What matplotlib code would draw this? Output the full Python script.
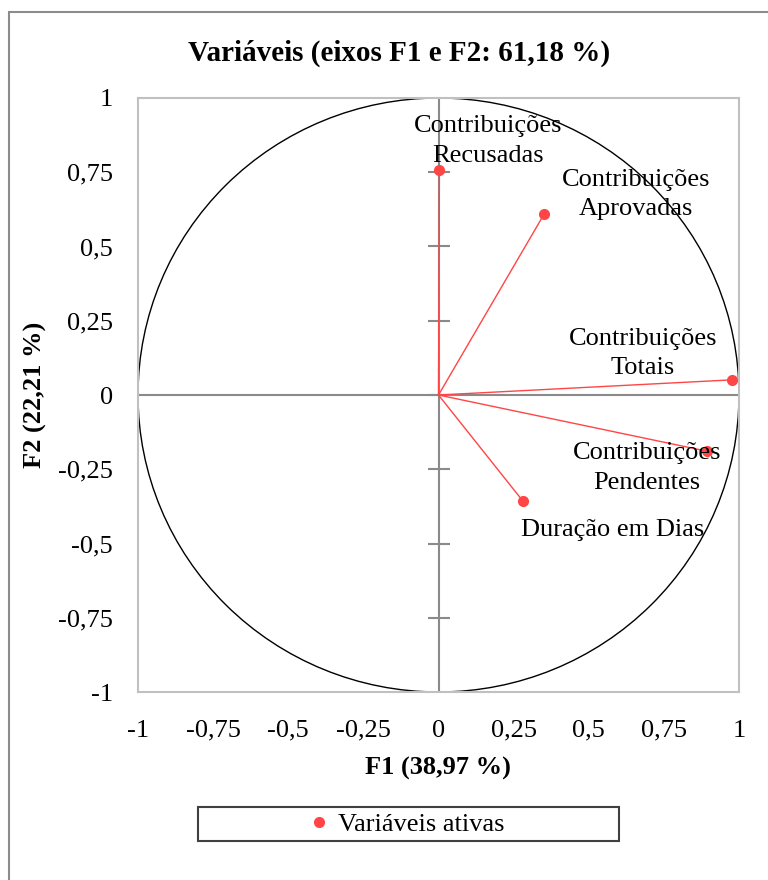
import numpy as np
import matplotlib
matplotlib.use("Agg")
import matplotlib.pyplot as plt
from matplotlib.patches import Circle, Rectangle
from matplotlib.lines import Line2D

plt.rcParams['font.family'] = ['Liberation Serif', 'DejaVu Serif']

# Correlações das variáveis com os fatores F1 e F2
variaveis = ["Contribuições\nRecusadas", "Contribuições\nAprovadas",
             "Contribuições\nTotais", "Contribuições\nPendentes",
             "Duração em Dias"]
f1 = [0.003, 0.352, 0.976, 0.892, 0.280]
f2 = [0.758, 0.610, 0.051, -0.189, -0.356]

ticks = [-1, -0.75, -0.5, -0.25, 0, 0.25, 0.5, 0.75, 1]
tick_labels = ["-1", "-0,75", "-0,5", "-0,25", "0", "0,25", "0,5", "0,75", "1"]

titulo = "Variáveis (eixos F1 e F2: 61,18 %)"
rotulo_x = "F1 (38,97 %)"
rotulo_y = "F2 (22,21 %)"
legenda = "Variáveis ativas"

# deslocamento dos rótulos em relação aos pontos (pontos tipográficos)
offsets = [(35, 21), (66, 14), (-64, 19), (-43, -12), (65, -21)]

RED = "#ff4545"
FS = 19

fig = plt.figure(figsize=(7.68, 8.8), dpi=100)

# moldura externa do gráfico
fig.patches.append(Rectangle((9 / 768, -0.1), 1.2, 0.1 + 1 - 12 / 880,
                             transform=fig.transFigure, fill=False,
                             edgecolor="#8c8c8c", linewidth=1.5))

ax = fig.add_axes([138 / 768, 1 - 692 / 880, 601 / 768, 594 / 880])
ax.set_xlim(-1, 1)
ax.set_ylim(-1, 1)

for s in ax.spines.values():
    s.set_color("#c0c0c0")
    s.set_linewidth(1.5)

ax.axhline(0, color="#8a8a8a", linewidth=1.5, zorder=1)
ax.axvline(0, color="#8a8a8a", linewidth=1.5, zorder=1)
# marcas no eixo vertical
ax.plot([0] * 7, [-0.75, -0.5, -0.25, 0.25, 0.5, 0.75, 0], linestyle="none",
        marker="_", markersize=16, markeredgewidth=1.5, color="#8a8a8a", zorder=1)

ax.add_patch(Circle((0, 0), 1, fill=False, edgecolor="black", linewidth=1.0, zorder=2))

for x, y in zip(f1, f2):
    ax.plot([0, x], [0, y], color=RED, linewidth=1.0, zorder=3)
ax.plot(f1, f2, linestyle="none", marker="o", markersize=7, color=RED, zorder=4)

for nome, x, y, (dx, dy) in zip(variaveis, f1, f2, offsets):
    ax.annotate(nome, (x, y), xytext=(dx, dy), textcoords="offset points",
                ha="center", va="center", fontsize=FS, linespacing=1.45, zorder=5)

ax.set_xticks(ticks)
ax.set_xticklabels(tick_labels, fontsize=FS)
ax.set_yticks(ticks)
ax.set_yticklabels(tick_labels, fontsize=FS)
ax.tick_params(axis="both", length=0)
ax.tick_params(axis="x", pad=20)
ax.tick_params(axis="y", pad=18)

fig.text(399 / 768, 1 - 53 / 880, titulo, ha="center", va="center",
         fontsize=21, fontweight="bold")
fig.text(438 / 768, 1 - 768 / 880, rotulo_x, ha="center", va="center",
         fontsize=FS, fontweight="bold")
fig.text(35 / 768, 1 - 395 / 880, rotulo_y, ha="center", va="center",
         rotation=90, fontsize=FS, fontweight="bold")

# caixa da legenda
fig.patches.append(Rectangle((198 / 768, 1 - 841 / 880), 421 / 768, 34 / 880,
                             transform=fig.transFigure, fill=False,
                             edgecolor="#404040", linewidth=1.5))
handle = Line2D([], [], linestyle="none", marker="o", markersize=7, color=RED)
fig.legend([handle], [legenda], loc="center", bbox_to_anchor=(408 / 768, 1 - 824 / 880),
           frameon=False, fontsize=FS, handlelength=0.6, handletextpad=0.4,
           borderpad=0)

fig.savefig("out.png", dpi=100)
